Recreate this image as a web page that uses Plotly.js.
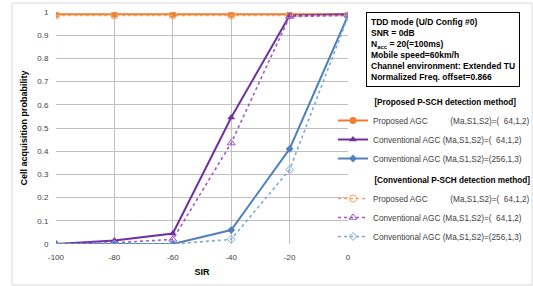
<!DOCTYPE html>
<html>
<head>
<meta charset="utf-8">
<script src="https://cdn.plot.ly/plotly-3.0.1.min.js"></script>
<style>html,body{margin:0;padding:0;background:#fff;}#chart{width:533px;height:286px;}</style>
</head>
<body>
<div id="chart"></div>
<script>
const sir = [-100, -80, -60, -40, -20, 0];
const sirLabels = ["-100", "-80", "-60", "-40", "-20", "0"];
const propAGC_prop = [0.99, 0.99, 0.99, 0.99, 0.99, 0.99];
const convAGC64_prop = [0, 0.015, 0.045, 0.545, 0.985, 0.99];
const convAGC256_prop = [0, 0, 0, 0.06, 0.41, 0.985];
const propAGC_conv = [0.985, 0.985, 0.985, 0.985, 0.985, 0.985];
const convAGC64_conv = [0, 0.005, 0.02, 0.435, 0.98, 0.985];
const convAGC256_conv = [0, 0, 0, 0.02, 0.32, 0.98];
const names = [
  "Proposed AGC\u00a0\u00a0\u00a0\u00a0\u00a0\u00a0\u00a0\u00a0\u00a0\u00a0(Ma,S1,S2)=(\u00a0\u00a064,1,2)",
  "Conventional AGC (Ma,S1,S2)=(\u00a0\u00a064,1,2)",
  "Conventional AGC (Ma,S1,S2)=(256,1,3)"
];
const groupTitles = ["[Proposed P-SCH detection method]", "[Conventional P-SCH detection method]"];
const infoLines = ["TDD mode (U/D Config #0)", "SNR = 0dB", "N<sub>acc</sub> = 20(=100ms)", "Mobile speed=60km/h", "Channel environment: Extended TU", "Normalized Freq. offset=0.866"];

const colors = ["#ED7D31", "#7030A0", "#4F81BD"];
const dotColors = ["#F4A460", "#9B59C9", "#7FA7D9"];
const syms = ["circle", "triangle-up", "diamond"];
const sizes = [7, 7, 6];
const solidData = [propAGC_prop, convAGC64_prop, convAGC256_prop];
const dotData = [propAGC_conv, convAGC64_conv, convAGC256_conv];

const indent = "\u00a0".repeat(16);
const gtFont = {size: 8.2, weight: 'bold', color: '#000'};
const traces = [];
solidData.forEach((d, i) => traces.push({
  x: sir, y: d, type: 'scatter', mode: 'lines+markers', name: names[i],
  legendgroup: 'g1', legendgrouptitle: {text: indent + groupTitles[0], font: gtFont},
  line: {color: colors[i], width: 2}, marker: {symbol: syms[i], size: sizes[i], color: colors[i]}
}));
dotData.forEach((d, i) => traces.push({
  x: sir, y: d, type: 'scatter', mode: 'lines+markers', name: names[i],
  legendgroup: 'g2', legendgrouptitle: {text: indent + groupTitles[1], font: gtFont},
  line: {color: dotColors[i], width: 1.6, dash: 'dot'}, marker: {symbol: syms[i] + '-open', size: sizes[i], color: dotColors[i]}
}));

const W = 292, H = 232, L = 56, T = 12;
const px = v => (v - L) / W;
const py = v => (T + H - v) / H;

const layout = {
  width: 533, height: 286,
  margin: {l: 56, r: 185, t: 12, b: 42, autoexpand: false},
  paper_bgcolor: '#fff', plot_bgcolor: '#fff',
  font: {family: 'Liberation Sans, Arial, sans-serif', size: 8, color: '#404040'},
  showlegend: true,
  legend: {x: px(333), xanchor: 'left', y: py(87), yanchor: 'top', traceorder: 'grouped', tracegroupgap: 2,
    font: {size: 8.2, color: '#404040'}, itemwidth: 30, bgcolor: 'rgba(0,0,0,0)'},
  xaxis: {range: [-100, 0], tickvals: sir, ticktext: sirLabels, ticks: 'outside', ticklen: 5, tickcolor: 'rgba(0,0,0,0)',
    showgrid: true, gridcolor: '#BFBFBF', gridwidth: 1,
    zeroline: false, showline: false, tickfont: {size: 8, color: '#404040'},
    title: {text: 'SIR', font: {size: 9, weight: 'bold', color: '#000'}, standoff: 8}},
  yaxis: {range: [0, 1], dtick: 0.1, ticks: 'outside', ticklen: 5, tickcolor: 'rgba(0,0,0,0)',
    showgrid: true, gridcolor: '#BFBFBF', gridwidth: 1,
    zeroline: false, showline: false, tickfont: {size: 8, color: '#404040'},
    title: {text: 'Cell acquisition probability', font: {size: 9, weight: 'bold', color: '#000'}, standoff: 8}},
  shapes: [{type: 'rect', xref: 'paper', yref: 'paper', x0: px(12), x1: px(532), y0: py(285), y1: py(3),
    line: {color: '#D9D9D9', width: 1}, layer: 'below'}],
  annotations: [{xref: 'paper', yref: 'paper', x: px(366), y: py(12), xanchor: 'left', yanchor: 'top',
    text: infoLines.join('<br>'), align: 'left', showarrow: false, bordercolor: '#000', borderwidth: 1,
    borderpad: 4, bgcolor: '#fff', font: {size: 8.5, weight: 'bold', color: '#000'}}]
};
Plotly.newPlot('chart', traces, layout, {displayModeBar: false, staticPlot: true});
</script>
</body>
</html>
